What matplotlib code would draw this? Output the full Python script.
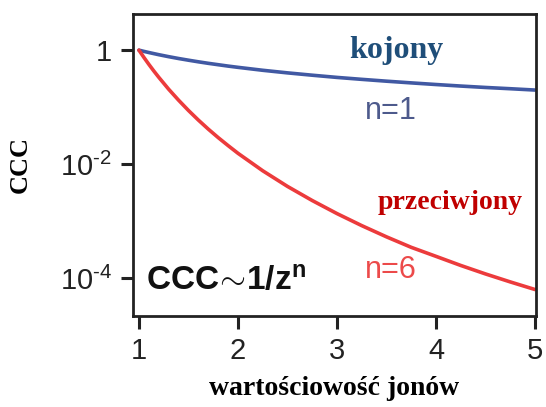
import numpy as np
import matplotlib
matplotlib.use("Agg")
import matplotlib.pyplot as plt
from matplotlib.ticker import FixedLocator, FixedFormatter, NullLocator

# wartościowość jonów (valence) and CCC
z = [1.0, 1.05, 1.1, 1.15, 1.2, 1.3, 1.4, 1.5, 1.6, 1.7, 1.8, 1.9, 2.0,
     2.25, 2.5, 2.75, 3.0, 3.25, 3.5, 3.75, 4.0, 4.25, 4.5, 4.75, 5.0]
ccc_kojony = [1.0, 0.952, 0.909, 0.870, 0.833, 0.769, 0.714, 0.667, 0.625, 0.588, 0.556,
              0.526, 0.50, 0.444, 0.40, 0.364, 0.333, 0.308, 0.286, 0.267, 0.25,
              0.235, 0.222, 0.211, 0.20]
ccc_przeciwjony = [1.0, 0.746, 0.564, 0.432, 0.335, 0.207, 0.133, 0.0878, 0.0596, 0.0414,
                   0.0294, 0.0213, 0.0156, 0.00771, 0.0041, 0.00232, 0.00137, 0.000843,
                   0.000536, 0.000351, 0.000244, 0.000169, 0.000120, 8.7e-5, 6.4e-5]

x_ticks = [1, 2, 3, 4, 5]
y_ticks = [1e-4, 1e-2, 1]
y_tick_labels = [r"$\mathregular{10^{\text{-}4}}$", r"$\mathregular{10^{\text{-}2}}$", "1"]

plt.rcParams["font.family"] = ["Liberation Sans", "DejaVu Sans"]
plt.rcParams["mathtext.fontset"] = "custom"
plt.rcParams["mathtext.rm"] = "Liberation Sans"
plt.rcParams["mathtext.bf"] = "Liberation Sans:bold"

fig = plt.figure(figsize=(5.46, 4.07), dpi=100)
ax = fig.add_axes([0.2436, 0.2236, 0.7381, 0.742])

ax.plot(z, ccc_kojony, color="#4159a3", lw=2.6, solid_capstyle="round")
ax.plot(z, ccc_przeciwjony, color="#ec3b3c", lw=2.6, solid_capstyle="round")

ax.set_yscale("log")
ax.set_xlim(0.94, 5.01)
ax.set_ylim(2.2e-5, 4.3)

ax.xaxis.set_major_locator(FixedLocator(x_ticks))
ax.yaxis.set_major_locator(FixedLocator(y_ticks))
ax.yaxis.set_major_formatter(FixedFormatter(y_tick_labels))
ax.yaxis.set_minor_locator(NullLocator())
ax.tick_params(axis="both", direction="out", length=9, width=2.2,
               labelsize=21, pad=6, colors="#222222")
for s in ax.spines.values():
    s.set_linewidth(2.0)
    s.set_color("#222222")

ax.set_xlabel("wartościowość jonów", family="Liberation Serif", weight="bold",
              fontsize=20, labelpad=8)
ax.set_ylabel("CCC", family="Liberation Serif", weight="bold", fontsize=19, labelpad=20)

ax.text(3.6, 1.0, "kojony", family="Liberation Serif", weight="bold", fontsize=23,
        color="#1f4e79", ha="center", va="center")
ax.text(3.54, 0.085, "n=1", fontsize=22, color="#4d5a8c", ha="center", va="center")
ax.text(4.14, 2.1e-3, "przeciwjony", family="Liberation Serif", weight="bold",
        fontsize=20, color="#c00000", ha="center", va="center")
ax.text(3.54, 1.4e-4, "n=6", fontsize=22, color="#ec4a4a", ha="center", va="center")
ax.text(1.07, 8.5e-5, r"$\mathbf{CCC}\!\sim\!\mathbf{1/z^{n}}$", fontsize=24,
        color="#111111", ha="left", va="center")

fig.savefig("out.png", dpi=100)
